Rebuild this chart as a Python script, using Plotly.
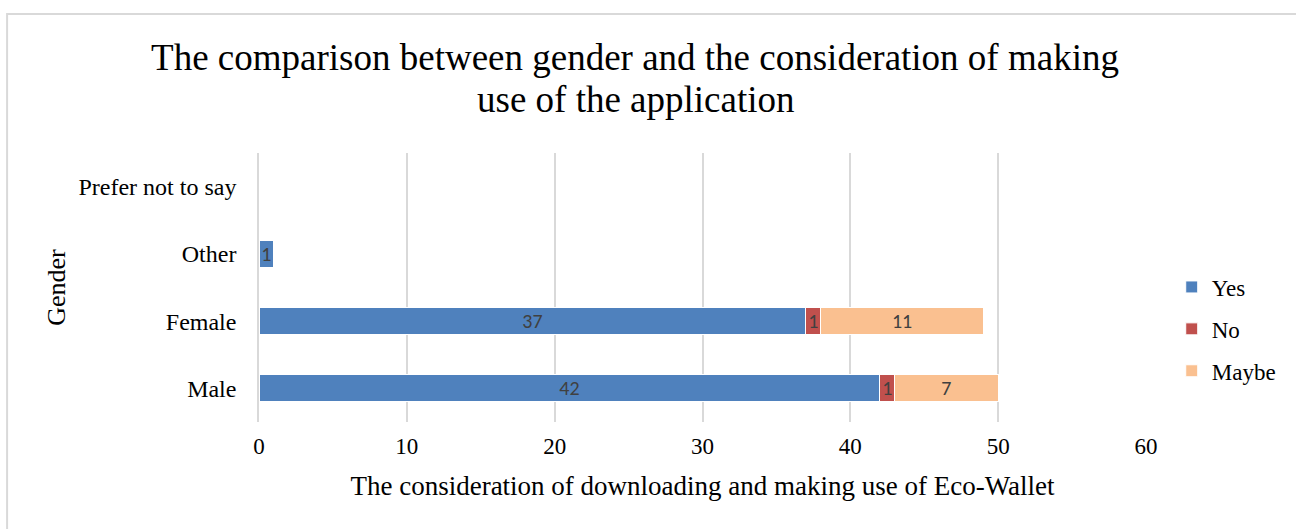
import plotly.graph_objects as go

# Gender categories (bottom to top)
genders = ["Male", "Female", "Other", "Prefer not to say"]

# Responses per gender
yes_vals = [42, 37, 1, 0]
no_vals = [1, 1, 0, 0]
maybe_vals = [7, 11, 0, 0]

series = [
    ("Yes", yes_vals, "#4F81BD"),
    ("No", no_vals, "#C0504D"),
    ("Maybe", maybe_vals, "#FAC090"),
]

x_ticks = [0, 10, 20, 30, 40, 50, 60]

title_line1 = "The comparison between gender and the consideration of making"
title_line2 = "use of the application"

serif = "Liberation Serif, Times New Roman, serif"

fig = go.Figure()
for name, vals, color in series:
    fig.add_trace(go.Bar(
        y=genders,
        x=vals,
        name=name,
        legendgroup=name,
        orientation="h",
        marker=dict(color=color, line=dict(color="white", width=1)),
        text=[str(v) if v else "" for v in vals],
        textposition="inside",
        insidetextanchor="middle",
        constraintext="none",
        textangle=0,
        textfont=dict(family="Carlito, Calibri, Open Sans, sans-serif", size=20, color="#404040"),
        hoverinfo="x+y+name",
    ))

fig.update_layout(
    barmode="stack",
    bargap=0.6,
    width=1296,
    height=529,
    paper_bgcolor="white",
    plot_bgcolor="white",
    margin=dict(l=259, r=150, t=153, b=107),
    font=dict(family=serif, size=23, color="#000000"),
    title=dict(
        text=title_line1,
        x=635 / 1296,
        xanchor="center",
        xref="container",
        y=1 - 57 / 529,
        yanchor="middle",
        yref="container",
        font=dict(family=serif, size=37, color="#000000"),
    ),
    xaxis=dict(
        range=[0, 60],
        tickvals=x_ticks,
        showgrid=True,
        gridcolor="#D9D9D9",
        gridwidth=1.5,
        zeroline=False,
        showline=False,
        ticks="",
        ticklabelstandoff=8,
        tickfont=dict(family=serif, size=23, color="#000000"),
        title=dict(
            text="The consideration of downloading and making use of Eco-Wallet",
            font=dict(family=serif, size=27, color="#000000"),
            standoff=18,
        ),
    ),
    yaxis=dict(
        categoryorder="array",
        categoryarray=genders,
        showgrid=False,
        zeroline=False,
        showline=True,
        linecolor="#D9D9D9",
        linewidth=1.5,
        ticks="outside",
        ticklen=16,
        tickcolor="rgba(0,0,0,0)",
        tickfont=dict(family=serif, size=24, color="#000000"),
        title=dict(
            text="Gender",
            font=dict(family=serif, size=26, color="#000000"),
            standoff=5,
        ),
    ),
    legend=dict(
        x=1.029,
        xanchor="left",
        y=(422 - 329) / 269,
        yanchor="middle",
        font=dict(family=serif, size=23, color="#000000"),
        itemwidth=30,
        tracegroupgap=9,
        traceorder="grouped",
        bgcolor="rgba(0,0,0,0)",
    ),
    showlegend=True,
)

# Second line of the chart title
fig.add_annotation(
    text=title_line2,
    xref="paper", yref="paper",
    x=(635 - 259) / 887, y=(422 - 99) / 269,
    xanchor="center", yanchor="middle",
    showarrow=False,
    font=dict(family=serif, size=37, color="#000000"),
)

# Outer chart frame
fig.add_shape(
    type="rect", xref="paper", yref="paper",
    x0=-0.284, x1=1.2, y0=-0.5, y1=1.517,
    line=dict(color="#D9D9D9", width=2),
    fillcolor="rgba(0,0,0,0)",
    layer="below",
)

fig.write_html("out.html")
